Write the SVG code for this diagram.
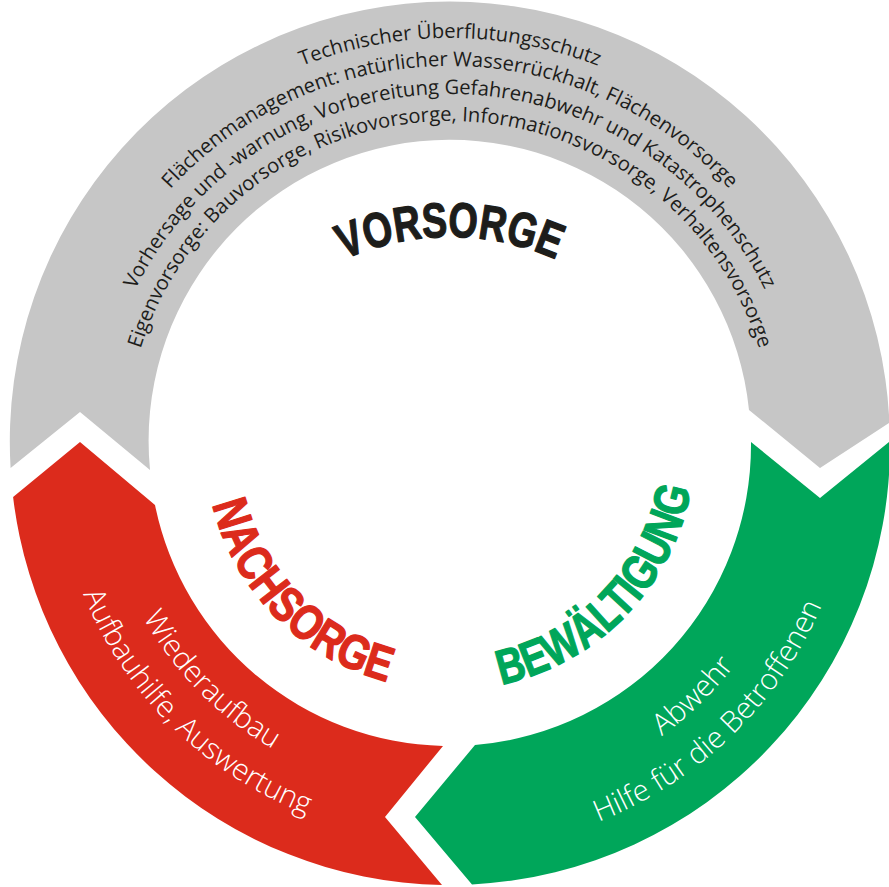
<svg xmlns="http://www.w3.org/2000/svg" width="889" height="887" viewBox="0 0 889 887">
<style>
.seg-gray{fill:#c6c6c6}
.seg-green{fill:#00a65a}
.seg-red{fill:#dc2b1c}
.body{font-family:"Open Sans","Noto Sans",sans-serif;font-size:20.2px;fill:#1d1d1b}
.white{font-family:"Open Sans","Noto Sans",sans-serif;font-size:29.5px;font-weight:300;fill:#ffffff}
.title{font-family:"Liberation Sans Narrow","Liberation Sans",sans-serif;font-weight:700;font-size:49px;stroke-width:1.3px;stroke-linejoin:round}
</style>
<defs>
<path id="g1" d="M 43 445 A 407 407 0 0 1 857 445"/>
<path id="g2" d="M 71 445 A 379 379 0 0 1 829 445"/>
<path id="g3" d="M 99 445 A 351 351 0 0 1 801 445"/>
<path id="g4" d="M 126 445 A 324 324 0 0 1 774 445"/>
<path id="tv" d="M 190 497 A 260 260 0 0 1 710 497"/>
<path id="tn" d="M 205 445 A 245 245 0 0 0 450 690"/>
<path id="r1" d="M 98 445 A 352 352 0 0 0 450 797"/>
<path id="r2" d="M 54 445 A 396 396 0 0 0 450 841"/>
<path id="tb" d="M 450 690 A 245 245 0 0 0 695 445"/>
<path id="e1" d="M 450 805 A 360 360 0 0 0 810 445"/>
<path id="e2" d="M 450 850 A 405 405 0 0 0 855 445"/>
</defs>
<g id="node-vorsorge">
<path class="seg-gray" d="M 10.6 468 A 440 440 0 1 1 889.4 422.7 L 820 468 L 749 410 A 301 301 0 0 0 150 470 L 80 412 Z"/>
<text class="body"><textPath href="#g1" startOffset="50%" text-anchor="middle">Technischer Überflutungsschutz</textPath></text>
<text class="body"><textPath href="#g2" startOffset="50%" text-anchor="middle">Flächenmanagement: natürlicher Wasserrückhalt, Flächenvorsorge</textPath></text>
<text class="body"><textPath href="#g3" startOffset="50%" text-anchor="middle">Vorhersage und -warnung, Vorbereitung Gefahrenabwehr und Katastrophenschutz</textPath></text>
<text class="body"><textPath href="#g4" startOffset="50%" text-anchor="middle">Eigenvorsorge: Bauvorsorge, Risikovorsorge, Informationsvorsorge, Verhaltensvorsorge</textPath></text>
<text class="title" fill="#1d1d1b" stroke="#1d1d1b"><textPath href="#tv" startOffset="50%" text-anchor="middle" textLength="218" lengthAdjust="spacingAndGlyphs">VORSORGE</textPath></text>
</g>
<g id="node-bewaeltigung">
<path class="seg-green" d="M 890 441.2 A 440 440 0 0 1 472 884.4 L 415 817 L 475 745 A 301 301 0 0 0 751 442 L 820 498 Z"/>
<text class="title" fill="#00a65a" stroke="#00a65a"><textPath href="#tb" startOffset="51%" text-anchor="middle" textLength="289" lengthAdjust="spacingAndGlyphs">BEWÄLTIGUNG</textPath></text>
<text class="white"><textPath href="#e1" startOffset="49%" text-anchor="middle">Abwehr</textPath></text>
<text class="white"><textPath href="#e2" startOffset="49%" text-anchor="middle">Hilfe für die Betroffenen</textPath></text>
</g>
<g id="node-nachsorge">
<path class="seg-red" d="M 442 884.9 A 440 440 0 0 1 13.1 497 L 80 442 L 155 505 A 301 301 0 0 0 443 745.9 L 385 817 Z"/>
<text class="title" fill="#dc2b1c" stroke="#dc2b1c"><textPath href="#tn" startOffset="49.5%" text-anchor="middle" textLength="261" lengthAdjust="spacingAndGlyphs">NACHSORGE</textPath></text>
<text class="white"><textPath href="#r1" startOffset="49.5%" text-anchor="middle">Wiederaufbau</textPath></text>
<text class="white"><textPath href="#r2" startOffset="50.5%" text-anchor="middle">Aufbauhilfe, Auswertung</textPath></text>
</g>
<g id="connectors"></g>
</svg>
